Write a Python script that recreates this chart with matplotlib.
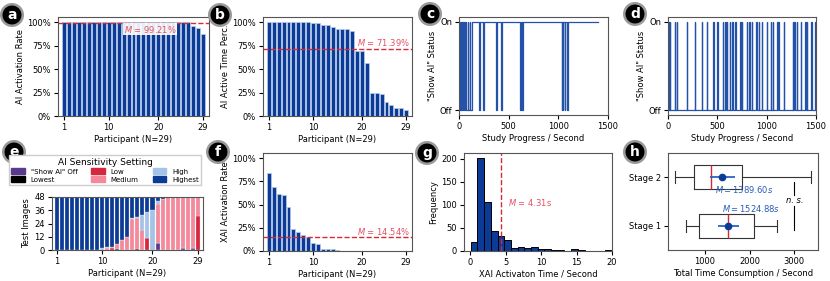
import numpy as np
import matplotlib
matplotlib.use('Agg')
import matplotlib.pyplot as plt
from matplotlib.patches import Patch
import warnings
warnings.filterwarnings('ignore')

plt.rcParams['font.family'] = ['DejaVu Sans']
plt.rcParams['font.size'] = 6
plt.rcParams['axes.edgecolor'] = '#555555'
plt.rcParams['axes.linewidth'] = 0.8
plt.rcParams['xtick.major.size'] = 3
plt.rcParams['ytick.major.size'] = 3
plt.rcParams['xtick.major.pad'] = 2
plt.rcParams['ytick.major.pad'] = 2
plt.rcParams['axes.labelpad'] = 2

# ---- data ----
participants = np.arange(1, 30)
part_ticks = [1, 10, 20, 29]

a_rate = [1.00, 1.00, 1.00, 1.00, 1.00, 1.00, 1.00, 1.00, 1.00, 1.00,
          1.00, 1.00, 1.00, 1.00, 1.00, 1.00, 1.00, 1.00, 1.00, 1.00,
          1.00, 1.00, 1.00, 1.00, 1.00, 1.00, 0.96, 0.935, 0.875]
a_mean = 0.9921

b_rate = [1.00, 1.00, 1.00, 1.00, 1.00, 1.00, 1.00, 1.00, 1.00, 0.99,
          0.99, 0.97, 0.97, 0.95, 0.925, 0.925, 0.925, 0.91, 0.69, 0.69,
          0.56, 0.245, 0.24, 0.23, 0.145, 0.12, 0.09, 0.085, 0.065]
b_mean = 0.7139

# panel c: "Show AI" switched off intervals (seconds)
c_off_start = [0, 14, 30, 48, 66, 92, 112, 200, 246, 374, 424, 618, 633, 1035, 1046, 1066, 1090]
c_off_end = [6, 20, 36, 56, 86, 108, 126, 210, 252, 378, 428, 626, 640, 1041, 1052, 1070, 1096]
c_end = 1400

# panel d: "Show AI" switched on intervals (seconds)
d_on_start = [0, 8, 16, 70, 88, 190, 270, 340, 393, 460, 500, 555, 580, 598, 625, 650,
              680, 732, 750, 800, 824, 850, 895, 918, 952, 1003, 1043, 1063, 1105, 1118,
              1172, 1262, 1280, 1307, 1348, 1392, 1408, 1452, 1490]
d_on_end = [4, 12, 22, 75, 93, 195, 275, 345, 398, 465, 505, 560, 585, 603, 630, 655,
            685, 737, 755, 805, 829, 855, 900, 923, 957, 1008, 1048, 1068, 1110, 1123,
            1177, 1267, 1285, 1312, 1353, 1397, 1413, 1457, 1495]
d_end = 1500

# panel e: AI sensitivity setting counts per participant (48 test images)
e_labels = ['"Show AI" Off', 'Lowest', 'Low', 'Medium', 'High', 'Highest']
e_colors = ['#5a3a8f', '#000000', '#d7263d', '#f4899b', '#a4c3e8', '#0b3b96']
e_off = [0, 0, 0, 0, 0, 0, 0, 0, 0, 0, 0, 0, 0, 0, 0, 0, 0, 0, 0, 0,
         6, 0, 0, 0, 0, 2, 0, 2, 0]
e_lowest = [0, 0, 0, 0, 0, 0, 0, 0, 0, 0, 0, 0, 1, 0, 0, 0, 1, 0, 0, 0,
            0, 0, 0, 0, 0, 0, 0, 0, 0]
e_low = [0, 0, 0, 0, 0, 0, 0, 0, 0, 0, 0, 2, 0, 0, 0, 0, 0, 0, 11, 0,
         0, 0, 0, 0, 0, 0, 0, 0, 31]
e_medium = [0, 0, 0, 0, 0, 0, 0, 0, 0, 0, 2, 1, 4, 9, 12, 28, 28, 18, 0, 0,
            36, 46, 48, 48, 48, 46, 48, 46, 17]
e_high = [0, 0, 0, 0, 0, 0, 0, 0, 0, 2, 1, 0, 0, 0, 0, 1, 1, 14, 23, 36,
          2, 0, 0, 0, 0, 0, 0, 0, 0]
e_highest = [48, 48, 48, 48, 48, 48, 48, 48, 48, 46, 45, 45, 43, 39, 36, 19, 18, 16, 14, 12,
             4, 2, 0, 0, 0, 0, 0, 0, 0]

f_rate = [0.84, 0.694, 0.619, 0.608, 0.47, 0.235, 0.203, 0.167, 0.153, 0.085,
          0.07, 0.02, 0.02, 0.02, 0.01, 0, 0, 0, 0, 0,
          0, 0, 0, 0, 0, 0, 0, 0, 0]
f_mean = 0.1454

# panel g: histogram of XAI activation time
g_counts = [19, 202, 106, 43, 33, 24, 6, 9, 6, 8, 5, 5, 3, 2, 1, 4, 3, 1, 0, 1, 2]
g_lo, g_hi = 0.05, 19.9
g_mean = 4.31

# panel h: total time consumption box stats
h_labels = ['Stage 1', 'Stage 2']
h_whislo = [568, 329]
h_q1 = [866, 761]
h_med = [1522, 1134]
h_q3 = [2104, 1835]
h_whishi = [2603, 3364]
h_mean = [1524.88, 1389.60]
h_err = [235, 270]

# ---- style ----
BLUE = '#0b3b96'
EDGE = '#b9cdea'
RED = '#d62a3a'
RED_TXT = '#e4505f'
LINE_BLUE = '#2352a8'

W, H = 830, 281


def ax_px(left, top, right, bottom):
    return fig.add_axes([left / W, 1 - bottom / H, (right - left) / W, (bottom - top) / H])


def pct_axis(ax):
    ax.set_yticks([0, 0.25, 0.5, 0.75, 1.0])
    ax.set_yticklabels(['0%', '25%', '50%', '75%', '100%'])
    ax.set_xticks(part_ticks)
    ax.set_xlim(-0.2, 30.2)
    ax.set_xlabel('Participant (N=29)')


fig = plt.figure(figsize=(8.3, 2.81), dpi=100)

# a
ax = ax_px(58, 17, 209, 116)
ax.bar(participants, a_rate, width=0.8, color=BLUE, edgecolor=EDGE, linewidth=0.5)
ax.axhline(a_mean, color=RED, ls='--', lw=1)
ax.text(18.3, 0.985, r'$M$ = 99.21%', color=RED_TXT, ha='center', va='top',
        bbox=dict(fc='white', ec='none', pad=0.5, alpha=0.9))
ax.set_ylim(0, 1.055)
pct_axis(ax)
ax.set_ylabel('AI Activation Rate')

# b
ax = ax_px(263, 17, 412, 116)
ax.bar(participants, b_rate, width=0.8, color=BLUE, edgecolor=EDGE, linewidth=0.5)
ax.axhline(b_mean, color=RED, ls='--', lw=1)
ax.text(24.3, b_mean + 0.01, r'$M$ = 71.39%', color=RED_TXT, ha='center', va='bottom')
ax.set_ylim(0, 1.055)
pct_axis(ax)
ax.set_ylabel('AI Active Time Perc.')


def step_series(ax, starts, ends, end, base, flip):
    t = [0]
    s = [base]
    for st, en in zip(starts, ends):
        t += [st, en]
        s += [flip, base]
    t.append(end)
    s.append(base)
    ax.step(t, s, where='post', color=LINE_BLUE, lw=0.9)
    ax.set_xlim(0, 1500)
    ax.set_ylim(-0.055, 1.055)
    ax.set_yticks([0, 1])
    ax.set_yticklabels(['Off', 'On'])
    ax.set_xticks([0, 500, 1000, 1500])
    ax.set_xlabel('Study Progress / Second')
    ax.set_ylabel('"Show AI" Status')


# c
ax = ax_px(459, 17, 608, 115)
step_series(ax, c_off_start, c_off_end, c_end, 1, 0)

# d
ax = ax_px(668, 17, 816, 115)
step_series(ax, d_on_start, d_on_end, d_end, 0, 1)

# e
ax = ax_px(52, 197, 203, 250)
bottom = np.zeros(29)
for vals, lab, col in zip([e_off, e_lowest, e_low, e_medium, e_high, e_highest], e_labels, e_colors):
    ax.bar(participants, vals, bottom=bottom, width=0.8, color=col, edgecolor='#f2f2f2',
           linewidth=0.2, label=lab)
    bottom += np.array(vals)
ax.set_ylim(0, 48)
ax.set_yticks([0, 12, 24, 36, 48])
ax.set_xticks(part_ticks)
ax.set_xlim(0.1, 30.0)
ax.set_xlabel('Participant (N=29)')
ax.set_ylabel('Test Images')
handles = [Patch(color=c, label=l) for l, c in zip(e_labels, e_colors)]
fig.legend(handles=handles, loc='upper center', bbox_to_anchor=(105 / W, 1 - 152 / H),
           ncol=3, fontsize=5, title='AI Sensitivity Setting', title_fontsize=6.5,
           handlelength=2.0, handleheight=0.9, columnspacing=2.0, labelspacing=0.25,
           borderpad=0.3, fancybox=False, edgecolor='#cccccc', framealpha=1)

# f
ax = ax_px(263, 153, 412, 251)
ax.bar(participants, f_rate, width=0.8, color=BLUE, edgecolor=EDGE, linewidth=0.5)
ax.axhline(f_mean, color=RED, ls='--', lw=1)
ax.text(24.3, f_mean + 0.01, r'$M$ = 14.54%', color=RED_TXT, ha='center', va='bottom')
ax.set_ylim(0, 1.055)
pct_axis(ax)
ax.set_ylabel('XAI Activation Rate')

# g
ax = ax_px(464, 153, 612, 251)
edges = np.linspace(g_lo, g_hi, len(g_counts) + 1)
ax.bar(edges[:-1], g_counts, width=np.diff(edges), align='edge', color=BLUE,
       edgecolor='black', linewidth=0.7)
ax.axvline(g_mean, color=RED, ls='--', lw=1)
ax.text(5.3, 106, r'$M$ = 4.31s', color=RED_TXT, ha='left', va='center')
ax.set_xlim(-0.9, 20)
ax.set_ylim(0, 212)
ax.set_xticks([0, 5, 10, 15, 20])
ax.set_yticks([0, 50, 100, 150, 200])
ax.set_xlabel('XAI Activaton Time / Second')
ax.set_ylabel('Frequency')

# h
ax = ax_px(668, 153, 818, 250)
stats = []
for i in range(2):
    stats.append(dict(label=h_labels[i], whislo=h_whislo[i], q1=h_q1[i], med=h_med[i],
                      q3=h_q3[i], whishi=h_whishi[i], fliers=[]))
ax.bxp(stats, positions=[1, 2], vert=False, widths=0.5, showfliers=False,
       boxprops=dict(color='#333333', lw=0.8),
       whiskerprops=dict(color='#333333', lw=0.8),
       capprops=dict(color='#333333', lw=0.8),
       medianprops=dict(color=RED, lw=1))
ax.errorbar(h_mean, [1, 2], xerr=h_err, fmt='o', color=BLUE, ecolor='#2e62c6',
            elinewidth=1.3, ms=4.5, capsize=0, zorder=5)
ax.text(1224, 1.75, r'$M = 1389.60s$', color='#2a5cb8', ha='left', va='center')
ax.text(1374, 1.36, r'$M = 1524.88s$', color='#2a5cb8', ha='left', va='center')
ax.plot([3000, 3000], [1.91, 1.63], color='black', lw=0.8)
ax.plot([3000, 3000], [1.40, 0.91], color='black', lw=0.8)
ax.text(3000, 1.515, 'n. s.', style='italic', ha='center', va='center')
ax.set_xlim(170, 3530)
ax.set_ylim(0.5, 2.5)
ax.set_xticks([1000, 2000, 3000])
ax.set_xlabel('Total Time Consumption / Second')

# panel letters
for s, x, y in [('a', 12, 15), ('b', 220, 15), ('c', 430, 14), ('d', 635, 14),
                ('e', 14, 152), ('f', 218, 152), ('g', 427, 153), ('h', 635, 152)]:
    fig.text(x / W, 1 - y / H, s, ha='center', va='center', color='white', fontsize=10,
             fontweight='bold',
             bbox=dict(boxstyle='circle,pad=0.27', fc='black', ec='#9a9a9a', lw=1.8))

fig.savefig('out.png', dpi=100)
